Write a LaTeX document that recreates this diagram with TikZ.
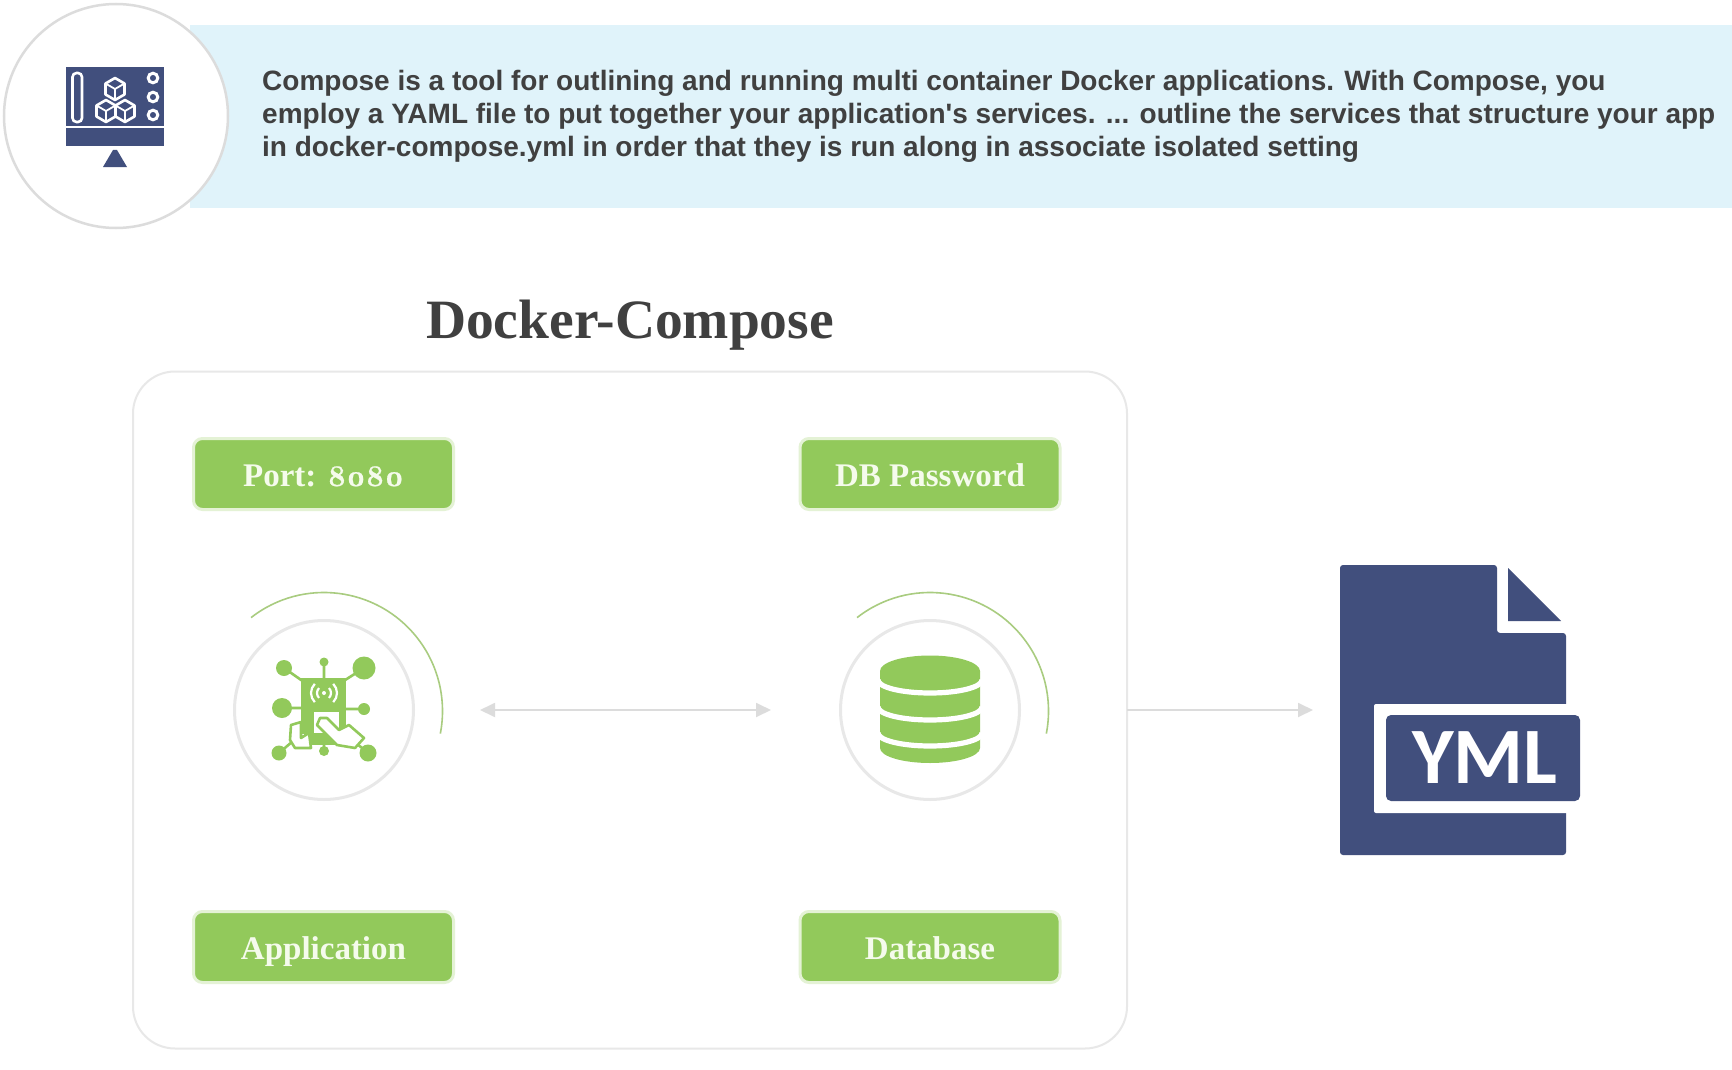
\documentclass[tikz,border=0pt]{standalone}
\usepackage{fontspec}
\usetikzlibrary{arrows.meta}
\newfontfamily\sansf{Liberation Sans}
\newfontfamily\serf{Liberation Serif}
\newfontfamily\onumf[Numbers=OldStyle,FakeBold=0.7]{Latin Modern Roman}
\newfontfamily\yml{Carlito}
\definecolor{banner}{HTML}{E0F3FA}
\definecolor{navy}{HTML}{414F7D}
\definecolor{grn}{HTML}{92C95B}
\definecolor{halo}{HTML}{E4F2D5}
\definecolor{ring}{HTML}{E8E8E8}
\definecolor{arcg}{HTML}{A9CC80}
\definecolor{ink}{HTML}{404040}
\definecolor{conn}{HTML}{DCDCDC}
\definecolor{pale}{HTML}{F5FBEC}
\tikzset{
  bodyline/.style={anchor=base west,inner sep=0pt,text=ink,font=\sansf\bfseries\fontsize{28}{32}\selectfont},
  tag/.style={draw=halo,line width=3pt,fill=grn,rounded corners=9pt,minimum width=260pt,minimum height=71pt,inner sep=0pt,outer sep=0pt,text=pale,text height=24pt,text depth=0pt,font=\serf\bfseries\fontsize{33}{36}\selectfont},
  ringc/.style={circle,draw=ring,line width=3pt,fill=white,minimum size=179pt,inner sep=0pt,outer sep=0pt},
  sweep/.style={draw=arcg,line width=1.6pt},
  link/.style={draw=conn,line width=1.8pt},
  cord/.style={grn,line width=2.6pt},
  hand/.style={draw=grn,fill=white,line width=2.6pt,line join=round},
}
\begin{document}
\begin{tikzpicture}[x=1pt,y=-1pt]
\useasboundingbox (0,0) rectangle (1732,1070);
\fill[white] (0,0) rectangle (1732,1070);
% banner
\fill[banner] (190,25) rectangle (1732,208);
\node[circle,draw=ring!95!black,line width=2.5pt,fill=white,minimum size=224pt,inner sep=0pt] (badge) at (116,116) {};
% monitor icon
\fill[navy] (66,67) rectangle (164,146);
\draw[white,line width=1.8pt] (66,127) -- (164,127);
\fill[navy] (113,150) -- (117,150) -- (127,167) -- (103,167) -- cycle;
\draw[white,line width=2.6pt,rounded corners=4pt] (72.5,73) rectangle (82,122);
\foreach \cy in {78,97,115} \draw[white,line width=3pt] (153,\cy) circle[radius=4.8pt];
\foreach \cx/\cy in {115/89,106/111,125/111}{
  \draw[white,line width=2.6pt,line join=round] (\cx,\cy-11) -- (\cx+9.5,\cy-5.5) -- (\cx+9.5,\cy+5.5) -- (\cx,\cy+11) -- (\cx-9.5,\cy+5.5) -- (\cx-9.5,\cy-5.5) -- cycle;
  \draw[white,line width=1.8pt] (\cx-9.5,\cy-5.5) -- (\cx,\cy) -- (\cx+9.5,\cy-5.5) (\cx,\cy) -- (\cx,\cy+11);
}
% text
\node[bodyline] (l1) at (262,91) {Compose is a tool for outlining and running multi container Docker applications. With Compose, you};
\node[bodyline] (l2) at (262,123.5) {employ a YAML file to put together your application's services. ... outline the services that structure your app};
\node[bodyline] (l3) at (262,157) {in docker-compose.yml in order that they is run along in associate isolated setting};
% title
\node[anchor=base,inner sep=0pt,text=ink,font=\serf\bfseries\fontsize{55.5}{60}\selectfont] (title) at (630,338.5) {Docker-Compose};
% frame
\node[draw=ring,line width=2pt,rounded corners=42pt,minimum width=994pt,minimum height=677pt,inner sep=0pt,outer sep=0pt,fill=white] (frame) at (630,710) {};
% tags
\node[tag] (port) at (323.5,474) {Port: {\onumf\fontsize{30}{36}\selectfont 8080}};
\node[tag] (dbpw) at (930,474) {DB Password};
\node[tag] (appl) at (323.5,947) {Application};
\node[tag] (dbase) at (930,947) {Database};
% rings
\node[ringc] (appc) at (324,710) {};
\node[ringc] (dbc) at (930,710) {};
\draw[sweep] (324,711) ++(128:118.5pt) arc[start angle=128,end angle=-11,radius=118.5pt];
\draw[sweep] (930,711) ++(128:118.5pt) arc[start angle=128,end angle=-11,radius=118.5pt];
% application icon
\draw[cord] (284,668)--(304,682) (364,668)--(342,682) (324,662)--(324,680)
            (282,708)--(304,708) (364,709)--(344,709)
            (279,753)--(300,735) (324,751)--(324,740) (368,753)--(350,738);
\fill[grn] (284,668) circle[radius=8pt] (364,668) circle[radius=11.5pt] (324,662) circle[radius=4.5pt]
      (282,708) circle[radius=10pt] (364,709) circle[radius=6pt]
      (279,753) circle[radius=7.5pt] (324,751) circle[radius=5pt] (368,753) circle[radius=8.5pt];
\fill[grn] (301,678) rectangle (346,734);
\fill[white] (314,712) rectangle (339,735);
\fill[grn] (304,733) rectangle (338,745);
\foreach \r in {7,13}{
  \draw[white,line width=2.2pt] (324,693) ++(135:\r pt) arc[start angle=135,end angle=225,radius=\r pt];
  \draw[white,line width=2.2pt] (324,693) ++(45:\r pt) arc[start angle=45,end angle=-45,radius=\r pt];
}
\fill[white] (324,693) circle[radius=2pt];
\draw[hand] (291,725) -- (301,722) -- (301,738) -- (309,733) -- (311,748) -- (295,748) -- (290,740) -- cycle;
\draw[hand] (320,718) -- (327,718) -- (339,730) -- (349,725) -- (364,738) -- (355,748) -- (337,745) -- (317,725) -- cycle;
% database icon
\fill[grn] (880,671) -- (880,748) arc[start angle=180,end angle=360,x radius=50pt,y radius=15pt] -- (980,671) -- cycle;
\foreach \cy in {680,707,733}
  \draw[white,line width=5.2pt] (878,\cy) arc[start angle=180,end angle=360,x radius=52pt,y radius=13pt];
\fill[grn] (930,671) ellipse[x radius=50pt,y radius=15.5pt];
% file
\node[minimum width=226pt,minimum height=290pt,inner sep=0pt,outer sep=0pt] (file) at (1453,710) {};
\fill[navy,rounded corners=3pt] (1340,565) -- (1497,565) -- (1497,633) -- (1566,633) -- (1566,855) -- (1340,855) -- cycle;
\fill[navy] (1508,568) -- (1561,621) -- (1508,621) -- cycle;
\fill[white,rounded corners=2pt] (1374,704) rectangle (1590,813);
\node[fill=navy,rounded corners=5pt,minimum width=194pt,minimum height=86pt,inner sep=0pt,text=white,font=\yml\bfseries\fontsize{80}{84}\selectfont] (ymlbox) at (1483,758) {\hspace{4pt}YML};
% connectors
\draw[link,{Triangle[length=15pt,width=14pt,color=conn]}-{Triangle[length=15pt,width=14pt,color=conn]}] ([xshift=66.5pt]appc.east) -- ([xshift=-69.5pt]dbc.west);
\draw[link,-{Triangle[length=15pt,width=14pt,color=conn]}] (frame.east) -- ([xshift=-27pt]file.west);
\end{tikzpicture}
\end{document}
